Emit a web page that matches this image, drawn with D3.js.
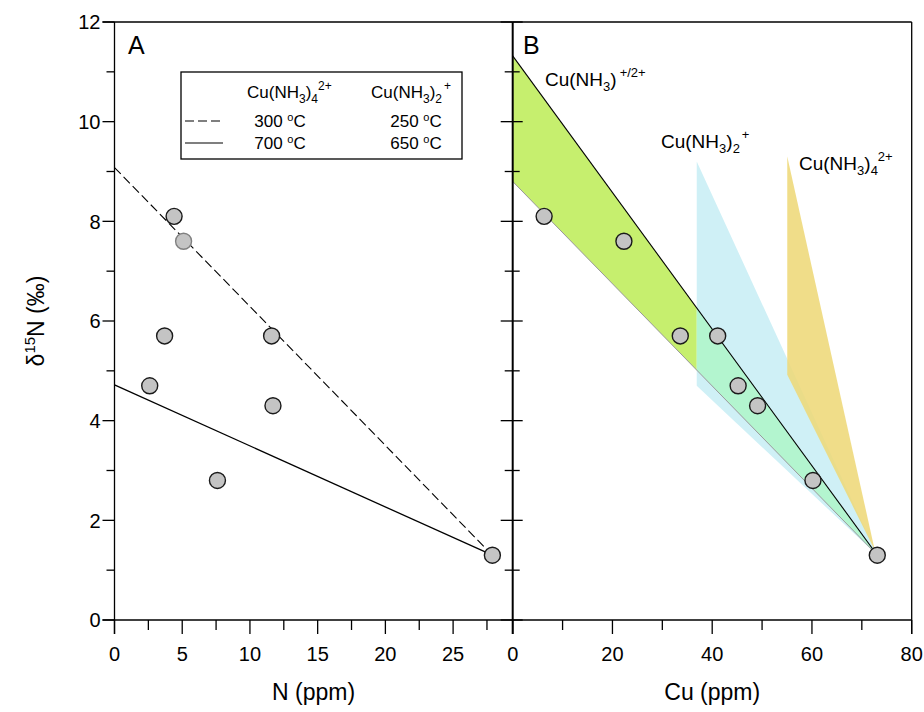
<!DOCTYPE html>
<html>
<head>
<meta charset="utf-8">
<script src="https://cdn.jsdelivr.net/npm/d3@7"></script>
<style>
  body { margin: 0; background: #fff; }
  text { font-family: "Liberation Sans", Arial, sans-serif; fill: #000; }
</style>
</head>
<body>
<div id="chart"></div>
<script>
// dati
const nPpm = [4.4, 5.1, 3.7, 11.6, 2.6, 11.7, 7.6, 27.9];
const cuPpm = [6.3, 22.3, 33.6, 41.1, 45.2, 49.1, 60.2, 73.1];
const d15N = [8.1, 7.6, 5.7, 5.7, 4.7, 4.3, 2.8, 1.3];

// linee di modello pannello A
const line300 = [[0, 9.08], [27.9, 1.3]];
const line700 = [[0, 4.72], [27.9, 1.3]];

// campi pannello B
const mixField = [[0, 11.32], [73.1, 1.3], [0, 8.8]];
const cu2Field = [[36.9, 9.2], [73.1, 1.3], [36.9, 4.7]];
const cu4Field = [[55.05, 9.3], [72.6, 1.4], [55.05, 4.92]];
const mixSplit = 36.9;

const yTicks = [0, 2, 4, 6, 8, 10, 12];
const xTicksA = [0, 5, 10, 15, 20, 25];
const xTicksB = [0, 20, 40, 60, 80];

const width = 924, height = 712;
const plotTop = 22, plotBottom = 620;
const leftA = 114.5, midX = 512.7, rightB = 911.7;

const svg = d3.select("#chart").append("svg")
    .attr("width", width)
    .attr("height", height);

const y = d3.scaleLinear().domain([0, 12]).range([plotBottom, plotTop]);
const xA = d3.scaleLinear().domain([0, 29.4]).range([leftA, midX]);
const xB = d3.scaleLinear().domain([0, 80]).range([midX, rightB]);

// --- pannello B: campi colorati ---
const gB = svg.append("g");
const polyB = pts => pts.map(p => [xB(p[0]), y(p[1])].join(",")).join(" ");

const defs = svg.append("defs");
defs.append("clipPath").attr("id", "clipLeft").append("rect")
    .attr("x", xB(0)).attr("y", plotTop).attr("width", xB(mixSplit) - xB(0)).attr("height", plotBottom - plotTop);
defs.append("clipPath").attr("id", "clipRight").append("rect")
    .attr("x", xB(mixSplit)).attr("y", plotTop).attr("width", rightB - xB(mixSplit)).attr("height", plotBottom - plotTop);

gB.append("polygon").attr("points", polyB(cu2Field)).attr("fill", "#cff0f6");
gB.append("polygon").attr("points", polyB(cu4Field)).attr("fill", "#eed879").attr("opacity", 0.88);
gB.append("polygon").attr("points", polyB(mixField)).attr("fill", "#c6ef6e").attr("clip-path", "url(#clipLeft)");
gB.append("polygon").attr("points", polyB(mixField)).attr("fill", "#b3f5cf").attr("clip-path", "url(#clipRight)");

// bordo inferiore grigio e linea nera
gB.append("line")
    .attr("x1", xB(mixField[2][0])).attr("y1", y(mixField[2][1]))
    .attr("x2", xB(mixField[1][0])).attr("y2", y(mixField[1][1]))
    .attr("stroke", "#999").attr("stroke-width", 1);
gB.append("line")
    .attr("x1", xB(mixField[0][0])).attr("y1", y(mixField[0][1]))
    .attr("x2", xB(mixField[1][0])).attr("y2", y(mixField[1][1]))
    .attr("stroke", "#000").attr("stroke-width", 1.1);

// --- pannello A: linee ---
const lineA = d3.line().x(d => xA(d[0])).y(d => y(d[1]));
svg.append("path").attr("d", lineA(line300))
    .attr("fill", "none").attr("stroke", "#000").attr("stroke-width", 1.1)
    .attr("stroke-dasharray", "9,4");
svg.append("path").attr("d", lineA(line700))
    .attr("fill", "none").attr("stroke", "#000").attr("stroke-width", 1.3);

// --- assi ---
function yAxisTicks(x0, dir, majorLen, minorLen, withLabels) {
    const g = svg.append("g");
    d3.range(0, 12.01, 1).forEach(v => {
        const len = v % 2 === 0 ? majorLen : minorLen;
        g.append("line")
            .attr("x1", x0).attr("x2", x0 + dir * len)
            .attr("y1", y(v)).attr("y2", y(v))
            .attr("stroke", "#000").attr("stroke-width", 1.3);
    });
    if (withLabels) {
        g.selectAll("text").data(yTicks).join("text")
            .attr("x", x0 - 14).attr("y", d => y(d))
            .attr("dy", "0.36em")
            .attr("text-anchor", "end")
            .style("font-size", "20px")
            .text(d => d);
    }
}
yAxisTicks(leftA, -1, 12, 8, true);
yAxisTicks(midX, -1, 12, 8, false);
yAxisTicks(midX, 1, 10, 7, false);

function xAxisTicks(scale, step, maxV, labels) {
    const g = svg.append("g");
    d3.range(0, maxV + 0.001, step).forEach((v, i) => {
        const len = i % 2 === 0 ? 14 : 10;
        g.append("line")
            .attr("x1", scale(v)).attr("x2", scale(v))
            .attr("y1", plotBottom).attr("y2", plotBottom + len)
            .attr("stroke", "#000").attr("stroke-width", 1.3);
    });
    g.selectAll("text").data(labels).join("text")
        .attr("x", d => scale(d)).attr("y", plotBottom + 41)
        .attr("text-anchor", "middle")
        .style("font-size", "20px")
        .text(d => d);
}
xAxisTicks(xA, 2.5, 29.4, xTicksA);
xAxisTicks(xB, 10, 80, xTicksB);

// cornici
svg.append("line").attr("x1", leftA - 12).attr("x2", rightB).attr("y1", plotTop).attr("y2", plotTop)
    .attr("stroke", "#000").attr("stroke-width", 1.3);
svg.append("line").attr("x1", leftA - 12).attr("x2", rightB).attr("y1", plotBottom).attr("y2", plotBottom)
    .attr("stroke", "#000").attr("stroke-width", 1.3);
svg.append("line").attr("x1", leftA).attr("x2", leftA).attr("y1", plotTop).attr("y2", plotBottom + 14)
    .attr("stroke", "#000").attr("stroke-width", 1.3);
svg.append("line").attr("x1", midX).attr("x2", midX).attr("y1", plotTop).attr("y2", plotBottom + 14)
    .attr("stroke", "#000").attr("stroke-width", 2);
svg.append("line").attr("x1", rightB).attr("x2", rightB).attr("y1", plotTop).attr("y2", plotBottom + 14)
    .attr("stroke", "#000").attr("stroke-width", 1.3);

// --- punti ---
function drawPoints(xs, scale, lightIdx) {
    svg.append("g").selectAll("circle")
        .data(xs.map((v, i) => ({ x: v, y: d15N[i], i: i })))
        .join("circle")
        .attr("cx", d => scale(d.x))
        .attr("cy", d => y(d.y))
        .attr("r", 8)
        .attr("fill", "#c4c4c4")
        .attr("stroke", d => d.i === lightIdx ? "#808080" : "#1a1a1a")
        .attr("stroke-width", 1.4);
}
drawPoints(nPpm, xA, 1);
drawPoints(cuPpm, xB, -1);

// --- testi ---
svg.append("text").attr("x", 128).attr("y", 54).style("font-size", "25px").text("A");
svg.append("text").attr("x", 523).attr("y", 54).style("font-size", "25px").text("B");

svg.append("text").attr("x", (leftA + midX) / 2).attr("y", 700)
    .attr("text-anchor", "middle").style("font-size", "23px").text("N (ppm)");
svg.append("text").attr("x", (midX + rightB) / 2).attr("y", 700)
    .attr("text-anchor", "middle").style("font-size", "23px").text("Cu (ppm)");

const yl = svg.append("text")
    .attr("transform", "translate(44," + ((plotTop + plotBottom) / 2) + ") rotate(-90)")
    .attr("text-anchor", "middle").style("font-size", "23px");
yl.append("tspan").text("δ");
yl.append("tspan").attr("dy", -9).style("font-size", "15px").text("15");
yl.append("tspan").attr("dy", 9).text("N (‰)");

// formula Cu(NH3)n con carica
function formula(x, yy, size, n, charge, chargeDx) {
    const small = Math.round(size * 0.68);
    const t = svg.append("text").attr("x", x).attr("y", yy).style("font-size", size + "px");
    t.append("tspan").text("Cu(NH");
    t.append("tspan").attr("dy", size * 0.28).style("font-size", small + "px").text("3");
    t.append("tspan").attr("dy", -size * 0.28).text(")");
    if (n) {
        t.append("tspan").attr("dy", size * 0.28).style("font-size", small + "px").text(n);
        t.append("tspan").attr("dx", chargeDx).attr("dy", -size * 0.78).style("font-size", small + "px").text(charge);
    } else {
        t.append("tspan").attr("dx", chargeDx).attr("dy", -size * 0.45).style("font-size", small + "px").text(charge);
    }
    return t;
}

// legenda
svg.append("rect").attr("x", 181).attr("y", 72).attr("width", 281).attr("height", 87)
    .attr("fill", "#fff").attr("stroke", "#000").attr("stroke-width", 1.3);
formula(247, 98, 17, "4", "2+", 0);
formula(371, 98, 17, "2", "+", 2);

const legendRows = [
    { dash: "9,4", t1: "300", t2: "250", y: 121 },
    { dash: null, t1: "700", t2: "650", y: 143 }
];
legendRows.forEach(r => {
    svg.append("line").attr("x1", 185).attr("x2", 223).attr("y1", r.y).attr("y2", r.y)
        .attr("stroke", "#000").attr("stroke-width", 1.2)
        .attr("stroke-dasharray", r.dash);
    [[280, r.t1], [416, r.t2]].forEach(c => {
        const t = svg.append("text").attr("x", c[0]).attr("y", r.y + 6)
            .attr("text-anchor", "middle").style("font-size", "17px");
        t.append("tspan").text(c[1] + " ");
        t.append("tspan").attr("dy", -6).style("font-size", "11px").text("o");
        t.append("tspan").attr("dy", 6).text("C");
    });
});

// etichette pannello B
formula(545, 86, 19, null, "+/2+", 3);
formula(661, 148, 19, "2", "+", 2);
formula(799, 170, 19, "4", "2+", 0);
</script>
</body>
</html>
